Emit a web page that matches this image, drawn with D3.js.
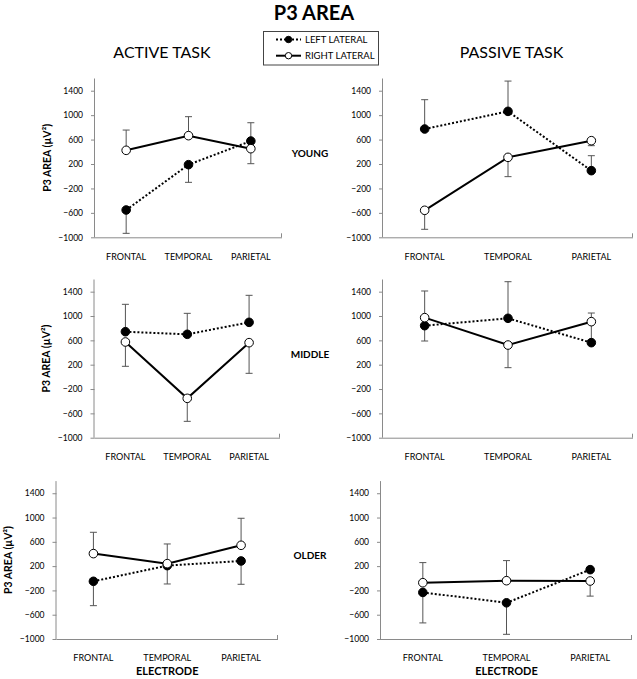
<!DOCTYPE html>
<html>
<head>
<meta charset="utf-8">
<script src="https://cdn.jsdelivr.net/npm/d3@7/dist/d3.min.js"></script>
<style>
  html, body { margin: 0; padding: 0; background: #fff; }
  svg { display: block; }
  text { font-family: Lato, "Open Sans", sans-serif; fill: #000; }
</style>
</head>
<body>
<svg id="chart" width="637" height="679"></svg>
<script>
// ---------- DATA ----------
const electrodes = ["FRONTAL", "TEMPORAL", "PARIETAL"];
const yTicks = [-1000, -600, -200, 200, 600, 1000, 1400];
const seriesNames = ["LEFT LATERAL", "RIGHT LATERAL"];
const groups = ["YOUNG", "MIDDLE", "OLDER"];
const tasks = ["ACTIVE TASK", "PASSIVE TASK"];

// Active task
const activeYoungLeft = [-553, 189, 576];
const activeYoungLeftErr = [382, 289, 300];
const activeYoungLeftDir = [-1, -1, 1];
const activeYoungRight = [424, 664, 451];
const activeYoungRightErr = [332, 311, 246];
const activeYoungRightDir = [1, 1, -1];

const activeMiddleLeft = [742, 699, 896];
const activeMiddleLeftErr = [450, 345, 444];
const activeMiddleLeftDir = [1, 1, 1];
const activeMiddleRight = [573, -353, 562];
const activeMiddleRightErr = [400, 378, 504];
const activeMiddleRightDir = [-1, -1, -1];

const activeOlderLeft = [-50, 208, 285];
const activeOlderLeftErr = [401, 302, 384];
const activeOlderLeftDir = [-1, -1, -1];
const activeOlderRight = [406, 241, 543];
const activeOlderRightErr = [351, 324, 445];
const activeOlderRightDir = [1, 1, 1];

// Passive task
const passiveYoungLeft = [773, 1062, 91];
const passiveYoungLeftErr = [480, 496, 245];
const passiveYoungLeftDir = [1, 1, 1];
const passiveYoungRight = [-558, 309, 582];
const passiveYoungRightErr = [311, 316, 82];
const passiveYoungRightDir = [-1, -1, -1];

const passiveMiddleLeft = [841, 962, 562];
const passiveMiddleLeftErr = [252, 602, 487];
const passiveMiddleLeftDir = [-1, 1, 1];
const passiveMiddleRight = [973, 523, 907];
const passiveMiddleRightErr = [438, 372, 0];
const passiveMiddleRightDir = [1, -1, 1];

const passiveOlderLeft = [-233, -404, 142];
const passiveOlderLeftErr = [502, 519, 0];
const passiveOlderLeftDir = [-1, -1, 1];
const passiveOlderRight = [-73, -40, -45];
const passiveOlderRightErr = [331, 331, 249];
const passiveOlderRightDir = [1, 1, -1];

// ---------- LAYOUT ----------
const panels = [
  {task: 0, group: 0, x0: 95, x1: 282, yBot: 237.3, yTop: 78.5,
   left: activeYoungLeft, leftErr: activeYoungLeftErr, leftDir: activeYoungLeftDir,
   right: activeYoungRight, rightErr: activeYoungRightErr, rightDir: activeYoungRightDir},
  {task: 1, group: 0, x0: 383, x1: 633, yBot: 237.3, yTop: 78.5,
   left: passiveYoungLeft, leftErr: passiveYoungLeftErr, leftDir: passiveYoungLeftDir,
   right: passiveYoungRight, rightErr: passiveYoungRightErr, rightDir: passiveYoungRightDir},
  {task: 0, group: 1, x0: 94.5, x1: 280, yBot: 437.7, yTop: 279.5,
   left: activeMiddleLeft, leftErr: activeMiddleLeftErr, leftDir: activeMiddleLeftDir,
   right: activeMiddleRight, rightErr: activeMiddleRightErr, rightDir: activeMiddleRightDir},
  {task: 1, group: 1, x0: 383, x1: 633, yBot: 437.7, yTop: 279.5,
   left: passiveMiddleLeft, leftErr: passiveMiddleLeftErr, leftDir: passiveMiddleLeftDir,
   right: passiveMiddleRight, rightErr: passiveMiddleRightErr, rightDir: passiveMiddleRightDir},
  {task: 0, group: 2, x0: 56.5, x1: 278, yBot: 639, yTop: 481.1,
   left: activeOlderLeft, leftErr: activeOlderLeftErr, leftDir: activeOlderLeftDir,
   right: activeOlderRight, rightErr: activeOlderRightErr, rightDir: activeOlderRightDir},
  {task: 1, group: 2, x0: 381, x1: 632, yBot: 639, yTop: 481.1,
   left: passiveOlderLeft, leftErr: passiveOlderLeftErr, leftDir: passiveOlderLeftDir,
   right: passiveOlderRight, rightErr: passiveOlderRightErr, rightDir: passiveOlderRightDir}
];

const svg = d3.select("#chart");
const axisColor = "#8a8a8a";
const errColor = "#555";

// Title
svg.append("text").attr("x", 314).attr("y", 19.5).attr("text-anchor", "middle")
  .style("font-size", "20px").style("font-weight", "bold").text("P3 AREA");

// Task headers
const taskX = [162, 511.5];
tasks.forEach((t, i) => {
  svg.append("text").attr("x", taskX[i]).attr("y", 58.3).attr("text-anchor", "middle")
    .style("font-size", "16px").text(t);
});

// Legend
const lg = svg.append("g");
lg.append("rect").attr("x", 263.5).attr("y", 31.5).attr("width", 115).attr("height", 33.5)
  .attr("fill", "#fff").attr("stroke", "#444").attr("stroke-width", 1);
const legY = [39.5, 55.7];
seriesNames.forEach((s, i) => {
  lg.append("line").attr("x1", 276).attr("x2", 301).attr("y1", legY[i]).attr("y2", legY[i])
    .attr("stroke", "#000").attr("stroke-width", 2)
    .attr("stroke-dasharray", i === 0 ? "2,2" : null);
  lg.append("circle").attr("cx", 288.5).attr("cy", legY[i]).attr("r", 3.2)
    .attr("fill", i === 0 ? "#000" : "#fff").attr("stroke", "#000").attr("stroke-width", 1);
  lg.append("text").attr("x", 305).attr("y", legY[i]).attr("dy", "0.35em")
    .style("font-size", "9.5px").text(s);
});

panels.forEach(p => {
  const g = svg.append("g");
  const x = d3.scaleBand().domain(electrodes).range([p.x0, p.x1]).padding(0);
  const y = d3.scaleLinear().domain([-1000, 1600]).range([p.yBot, p.yTop]);
  const cx = d => x(d) + x.bandwidth() / 2;

  // y axis
  const yAx = g.append("g").attr("transform", `translate(${p.x0},0)`)
    .call(d3.axisLeft(y).tickValues(yTicks).tickSize(4).tickPadding(8).tickFormat(d3.format("d")));
  yAx.select(".domain").attr("stroke", axisColor).attr("d", `M-0.5,${p.yBot}V${p.yTop}`);
  yAx.selectAll(".tick line").attr("stroke", axisColor);
  yAx.selectAll(".tick text").style("font-size", "8.5px").style("font-family", "Lato, sans-serif").attr("fill", "#000");

  // x axis
  const xAx = g.append("g").attr("transform", `translate(0,${p.yBot})`)
    .call(d3.axisBottom(x).tickSize(0).tickPadding(16));
  xAx.select(".domain").attr("stroke", axisColor).attr("d", `M${p.x0},0.5H${p.x1}`);
  xAx.selectAll(".tick text").style("font-size", "9px").style("font-family", "Lato, sans-serif").attr("fill", "#000");
  xAx.append("line").attr("x1", p.x1 - 0.5).attr("x2", p.x1 - 0.5).attr("y1", 0).attr("y2", -4)
    .attr("stroke", axisColor);

  // y label (active panels only)
  if (p.task === 0) {
    const yc = y(300);
    g.append("text").attr("transform", `translate(${p.x0 - 48},${yc}) rotate(-90)`)
      .attr("text-anchor", "middle").attr("dy", "0.35em")
      .style("font-size", "10.5px").style("font-weight", "bold").text("P3 AREA (µV²)");
  }

  // Error bars
  const series = [
    {vals: p.left, err: p.leftErr, dir: p.leftDir},
    {vals: p.right, err: p.rightErr, dir: p.rightDir}
  ];
  series.forEach(s => {
    electrodes.forEach((e, i) => {
      if (!s.err[i]) return;
      const end = s.vals[i] + s.dir[i] * s.err[i];
      g.append("line").attr("x1", cx(e)).attr("x2", cx(e))
        .attr("y1", y(s.vals[i])).attr("y2", y(end))
        .attr("stroke", errColor).attr("stroke-width", 1);
      g.append("line").attr("x1", cx(e) - 3.5).attr("x2", cx(e) + 3.5)
        .attr("y1", y(end)).attr("y2", y(end))
        .attr("stroke", errColor).attr("stroke-width", 1);
    });
  });

  // Lines + markers
  const line = d3.line().x((d, i) => cx(electrodes[i])).y(d => y(d));
  series.forEach((s, si) => {
    g.append("path").datum(s.vals).attr("d", line).attr("fill", "none")
      .attr("stroke", "#000").attr("stroke-width", 2)
      .attr("stroke-dasharray", si === 0 ? "2,2" : null);
  });
  series.forEach((s, si) => {
    g.selectAll(null).data(s.vals).enter().append("circle")
      .attr("cx", (d, i) => cx(electrodes[i])).attr("cy", d => y(d)).attr("r", 4.3)
      .attr("fill", si === 0 ? "#000" : "#fff").attr("stroke", "#000").attr("stroke-width", 1);
  });

  // Group label (right side of active panels)
  if (p.task === 0) {
    g.append("text").attr("x", 310).attr("y", y(370)).attr("dy", "0.35em")
      .attr("text-anchor", "middle").style("font-size", "10px").style("font-weight", "bold")
      .text(groups[p.group]);
  }
  // Electrode label under bottom row
  if (p.group === 2) {
    g.append("text").attr("x", (p.x0 + p.x1) / 2).attr("y", 675).attr("text-anchor", "middle")
      .style("font-size", "11px").style("font-weight", "bold").text("ELECTRODE");
  }
});
</script>
</body>
</html>
